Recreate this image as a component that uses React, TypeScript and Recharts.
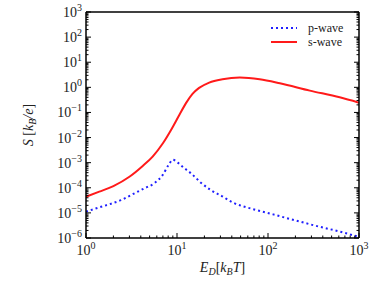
import React from 'react';
import { LineChart, Line, XAxis, YAxis } from 'recharts';

// s-wave curve (E_D in k_B T, S in k_B/e)
const sEnergy = [1, 1.4, 2, 3, 4.2, 5.4, 7, 8.6, 10.6, 12.5, 14.8, 17.5, 22.6, 31.6, 49, 81, 135, 288, 614, 1000];
const sWave = [4.4e-5, 7e-5, 1.17e-4, 2.75e-4, 7.4e-4, 1.74e-3, 5.9e-3, 0.02, 0.079, 0.23, 0.55, 0.95, 1.55, 2.1, 2.45, 2.1, 1.45, 0.74, 0.4, 0.245];

// p-wave curve
const pEnergy = [1, 1.4, 1.83, 2.42, 3.25, 4.37, 5.62, 6.94, 8.08, 9, 10.2, 11.5, 14.6, 18.3, 23.5, 31, 41, 69, 114, 205, 370, 614, 1000];
const pWave = [1.12e-5, 1.66e-5, 2.24e-5, 3.2e-5, 5.5e-5, 9.5e-5, 1.5e-4, 3.2e-4, 8.1e-4, 1.3e-3, 1.0e-3, 6.9e-4, 3.5e-4, 1.6e-4, 8.1e-5, 4.7e-5, 2.6e-5, 1.4e-5, 8.7e-6, 4.9e-6, 2.8e-6, 1.8e-6, 1.1e-6];

const xDecades = [0, 1, 2, 3];
const yDecades = [-6, -5, -4, -3, -2, -1, 0, 1, 2, 3];

const minorTicks = (decs: number[]) => {
  const out: number[] = [];
  decs.forEach((d, i) => {
    if (i === decs.length - 1) { out.push(Math.pow(10, d)); return; }
    for (let m = 1; m < 10; m++) out.push(m * Math.pow(10, d));
  });
  return out;
};
const xTicks = minorTicks(xDecades);
const yTicks = minorTicks(yDecades);

const sData = sEnergy.map((e, i) => ({ e, s: sWave[i] }));
const pData = pEnergy.map((e, i) => ({ e, p: pWave[i] }));

const FONT = '"Liberation Serif", "DejaVu Serif", serif';

const isMajor = (v: number) => Math.abs(Math.log10(v) - Math.round(Math.log10(v))) < 1e-6;
const sup = (v: number) => {
  const n = Math.round(Math.log10(v));
  return n < 0 ? '\u2212' + Math.abs(n) : String(n);
};

const TickX = ({ x, y, payload, top }: any) => {
  const v = payload.value;
  const maj = isMajor(v);
  const len = maj ? 5 : 2.5;
  return (
    <g>
      <line x1={x} x2={x} y1={y} y2={top ? y + len : y - len} stroke="#000" strokeWidth={1} />
      {!top && maj && (
        <text x={x} y={y + 17} textAnchor="middle" fontFamily={FONT} fontSize={14} fill="#222">
          10<tspan dy={-6} fontSize={10}>{sup(v)}</tspan>
        </text>
      )}
    </g>
  );
};

const TickY = ({ x, y, payload, right }: any) => {
  const v = payload.value;
  const maj = isMajor(v);
  const len = maj ? 5 : 2.5;
  return (
    <g>
      <line x1={x} x2={right ? x - len : x + len} y1={y} y2={y} stroke="#000" strokeWidth={1} />
      {!right && maj && (
        <text x={x - 4} y={y + 5} textAnchor="end" fontFamily={FONT} fontSize={14} fill="#222">
          10<tspan dy={-6} fontSize={10}>{sup(v)}</tspan>
        </text>
      )}
    </g>
  );
};

const XTitle = ({ viewBox }: any) => (
  <text x={viewBox.x + viewBox.width / 2} y={viewBox.y + 34} textAnchor="middle" fontFamily={FONT} fontSize={14} fill="#222">
    <tspan fontStyle="italic">E</tspan>
    <tspan fontStyle="italic" fontSize={10} dy={3}>D</tspan>
    <tspan dy={-3}>[</tspan>
    <tspan fontStyle="italic">k</tspan>
    <tspan fontStyle="italic" fontSize={10} dy={3}>B</tspan>
    <tspan fontStyle="italic" dy={-3}>T</tspan>
    <tspan>]</tspan>
  </text>
);

const YTitle = ({ viewBox }: any) => {
  const cx = 33;
  const cy = viewBox.y + viewBox.height / 2;
  return (
    <text x={cx} y={cy} transform={`rotate(-90 ${cx} ${cy})`} textAnchor="middle" fontFamily={FONT} fontSize={14} fill="#222">
      <tspan fontStyle="italic">S</tspan>
      <tspan> [</tspan>
      <tspan fontStyle="italic">k</tspan>
      <tspan fontStyle="italic" fontSize={10} dy={3}>B</tspan>
      <tspan fontStyle="italic" dy={-3}>/e</tspan>
      <tspan>]</tspan>
    </text>
  );
};

// legend drawn inside the plot, top right
const LegendLabel = ({ viewBox }: any) => {
  const x0 = viewBox.x + viewBox.width - 88;
  const y0 = viewBox.y + viewBox.height + 16;
  return (
    <g>
      <line x1={x0} x2={x0 + 26} y1={y0} y2={y0} stroke="#1f1fff" strokeWidth={2} strokeDasharray="2 3" />
      <text x={x0 + 37} y={y0 + 4} fontFamily={FONT} fontSize={12} fill="#222">p-wave</text>
      <line x1={x0} x2={x0 + 26} y1={y0 + 14} y2={y0 + 14} stroke="#ff1a1a" strokeWidth={2} />
      <text x={x0 + 37} y={y0 + 18} fontFamily={FONT} fontSize={12} fill="#222">s-wave</text>
    </g>
  );
};

export default function App() {
  return (
    <div style={{ position: 'absolute', left: 0, top: 0 }}>
      <LineChart width={374} height={281} margin={{ top: 0, right: 0, bottom: 0, left: 0 }}>
        <XAxis xAxisId="b" dataKey="e" type="number" scale="log" domain={[1, 1000]} allowDataOverflow
          ticks={xTicks} interval={0} height={43} tickSize={0} tickMargin={0} tickLine={false}
          axisLine={{ stroke: '#000', strokeWidth: 1.5 }} tick={<TickX />} label={<XTitle />} />
        <XAxis xAxisId="t" orientation="top" type="number" scale="log" domain={[1, 1000]} allowDataOverflow
          ticks={xTicks} interval={0} height={12} tickSize={0} tickMargin={0} tickLine={false}
          axisLine={{ stroke: '#000', strokeWidth: 1.5 }} tick={<TickX top />} label={<LegendLabel />} />
        <YAxis yAxisId="l" type="number" scale="log" domain={[1e-6, 1000]} allowDataOverflow
          ticks={yTicks} interval={0} width={86} tickSize={0} tickMargin={0} tickLine={false}
          axisLine={{ stroke: '#000', strokeWidth: 1.5 }} tick={<TickY />} label={<YTitle />} />
        <YAxis yAxisId="r" orientation="right" type="number" scale="log" domain={[1e-6, 1000]} allowDataOverflow
          ticks={yTicks} interval={0} width={15} tickSize={0} tickMargin={0} tickLine={false}
          axisLine={{ stroke: '#000', strokeWidth: 1.5 }} tick={<TickY right />} />
        <Line xAxisId="b" yAxisId="l" data={pData} dataKey="p" type="monotone" stroke="#1f1fff" strokeWidth={2}
          strokeDasharray="2 3" dot={false} isAnimationActive={false} />
        <Line xAxisId="b" yAxisId="l" data={sData} dataKey="s" type="monotone" stroke="#ff1a1a" strokeWidth={2}
          dot={false} isAnimationActive={false} />
      </LineChart>
    </div>
  );
}
